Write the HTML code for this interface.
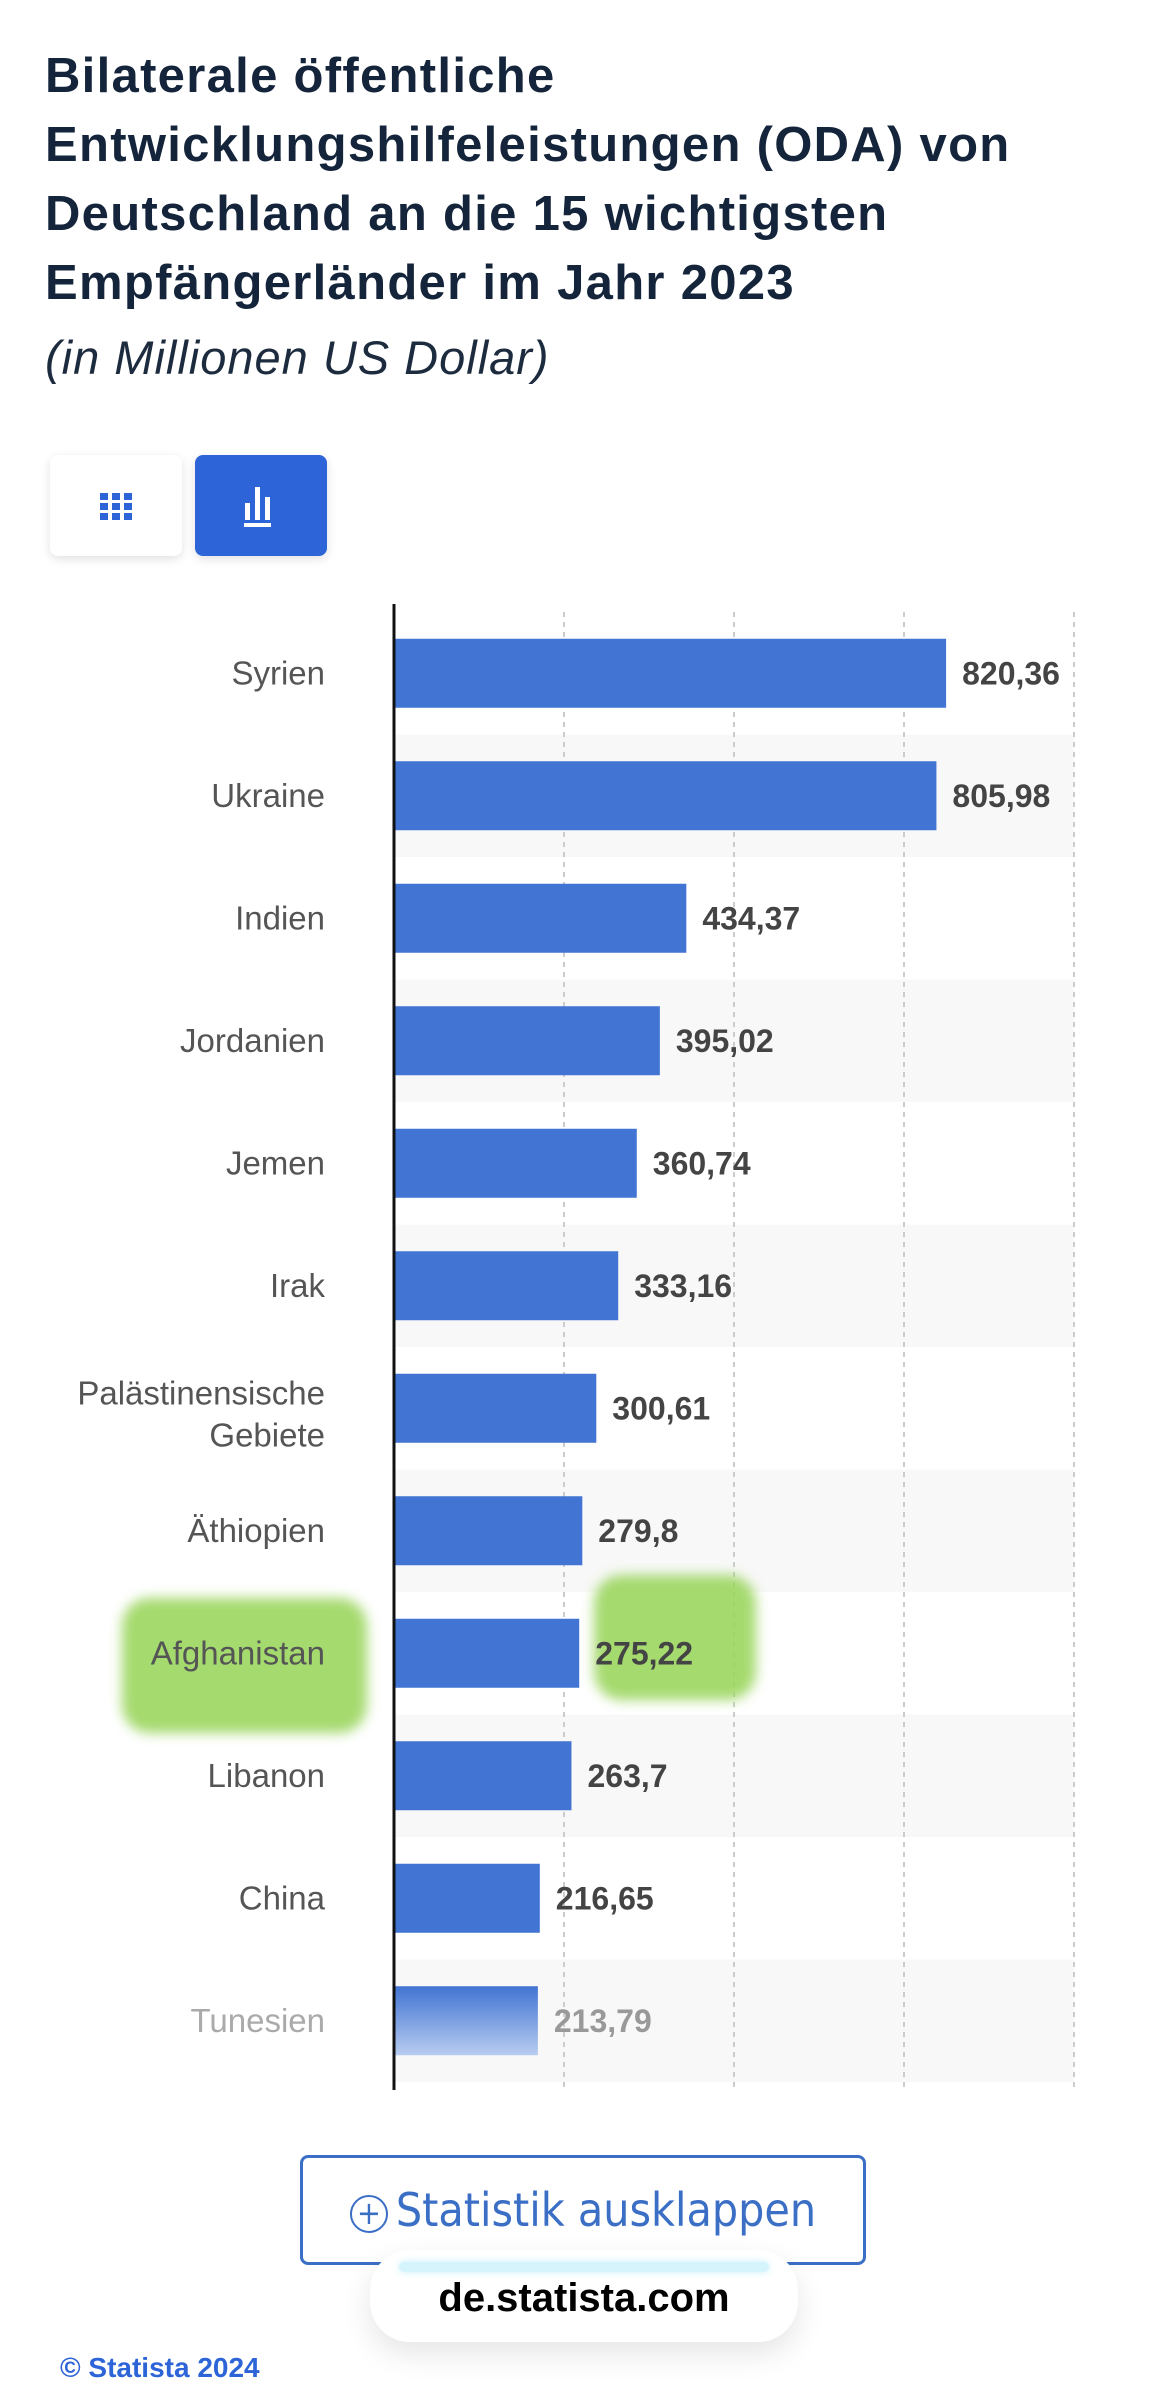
<!DOCTYPE html>
<html><head><meta charset="utf-8">
<style>
body{margin:0;width:1170px;height:2360px;background:#fff;overflow:hidden;position:relative;font-family:"Liberation Sans",sans-serif}
#title{position:absolute;left:45px;top:42px;width:1120px;font-weight:bold;font-size:49px;letter-spacing:1.3px;line-height:69px;color:#14243a;margin:0}
#sub{position:absolute;left:45px;top:330px;font-style:italic;font-size:47px;letter-spacing:1px;color:#1d2b3e}
.tb{position:absolute;top:455px;width:132px;height:101px;border-radius:8px;box-shadow:0 3px 10px rgba(0,0,0,.12)}
</style></head><body>
<h1 id="title">Bilaterale öffentliche Entwicklungshilfeleistungen (ODA) von Deutschland an die 15 wichtigsten Empfängerländer im Jahr 2023</h1>
<div id="sub">(in Millionen US Dollar)</div>
<div class="tb" style="left:50px;background:#fff">
<svg width="132" height="101"><g fill="#2d64d8"><rect x="50" y="38" width="8" height="7"/><rect x="62" y="38" width="8" height="7"/><rect x="74" y="38" width="8" height="7"/><rect x="50" y="48" width="8" height="7"/><rect x="62" y="48" width="8" height="7"/><rect x="74" y="48" width="8" height="7"/><rect x="50" y="58" width="8" height="7"/><rect x="62" y="58" width="8" height="7"/><rect x="74" y="58" width="8" height="7"/></g></svg></div>
<div class="tb" style="left:195px;background:#2d64d8">
<svg width="132" height="101"><g fill="#fff"><rect x="50" y="48" width="5" height="17"/><rect x="60" y="32" width="5" height="33"/><rect x="70" y="42" width="5" height="23"/><rect x="49" y="68" width="27" height="4"/></g></svg></div>
<svg id="chart" width="1170" height="2360" style="position:absolute;left:0;top:0"></svg>
<div style="position:absolute;left:300px;top:2155px;width:566px;height:110px;border:3px solid #3b6fc6;border-radius:8px;box-sizing:border-box;color:#3b6fc6;font-size:46px;line-height:104px;text-align:center;font-family:'DejaVu Sans Condensed','Liberation Sans',sans-serif">
<span style="display:inline-block;width:34px;height:34px;border:2.5px solid #3b6fc6;border-radius:50%;line-height:32px;font-size:32px;vertical-align:middle;margin-right:8px">+</span>Statistik ausklappen</div>
<div style="position:absolute;left:370px;top:2250px;width:428px;height:92px;background:#fff;border-radius:40px;box-shadow:0 12px 30px rgba(0,0,0,.1);text-align:center">
<div style="margin:12px auto 0;width:370px;height:10px;border-radius:6px;background:#d6f4fc;box-shadow:0 0 8px #c6effa"></div>
<div style="font-weight:bold;font-size:40px;color:#000;margin-top:4px">de.statista.com</div></div>
<div style="position:absolute;left:60px;top:2352px;font-size:28px;font-weight:bold;color:#2d64d8">© Statista 2024</div>
<script>
const categories=["Syrien","Ukraine","Indien","Jordanien","Jemen","Irak","Palästinensische Gebiete","Äthiopien","Afghanistan","Libanon","China","Tunesien"];
const values=[820.36,805.98,434.37,395.02,360.74,333.16,300.61,279.8,275.22,263.7,216.65,213.79];
const labels=["820,36","805,98","434,37","395,02","360,74","333,16","300,61","279,8","275,22","263,7","216,65","213,79"];
const gridTicks=[250,500,750,1000];
const NS="http://www.w3.org/2000/svg",svg=document.getElementById('chart');
const x0=394,k=0.673,kg=0.68,top0=612,pitch=122.5,bh=69,bottom=2090;
const X=v=>x0+v*k, XG=v=>x0+v*kg, Y=i=>top0+i*pitch;
function mk(t,a){const e=document.createElementNS(NS,t);for(const n in a)e.setAttribute(n,a[n]);svg.appendChild(e);return e;}
const defs=mk('defs',{});
defs.innerHTML='<linearGradient id="fade" x1="0" y1="0" x2="0" y2="1"><stop offset="0" stop-color="#4174d3"/><stop offset="1" stop-color="#b8ccf0"/></linearGradient><filter id="bl"><feGaussianBlur stdDeviation="6"/></filter>';
categories.forEach((c,i)=>{if(i%2==1){const r=mk('rect',{x:x0,y:Y(i),width:680,height:pitch,fill:'#f8f8f8'});

}});
gridTicks.forEach(t=>{const l=mk('line',{x1:XG(t),x2:XG(t),y1:top0,y2:bottom,stroke:'#ccc','stroke-width':2,'stroke-dasharray':'5,5'});

});
const hl1=mk('rect',{x:122,y:1598,width:245,height:135,rx:28,fill:'#9bd65e',opacity:.9,filter:'url(#bl)'});


const hl2=mk('rect',{x:594,y:1575,width:162,height:125,rx:28,fill:'#9bd65e',opacity:.9,filter:'url(#bl)'});


categories.forEach((c,i)=>{
 const cy=Y(i)+pitch/2, last=i==categories.length-1;
 const b=mk('rect',{x:x0,y:cy-bh/2,width:values[i]*k,height:bh,fill:last?'url(#fade)':'#4174d3'});
 
 
 const v=mk('text',{x:X(values[i])+16,y:cy+11,'font-size':32,'font-weight':'bold',fill:last?'#999':'#444'});
 v.textContent=labels[i];
 
 
 const t=mk('text',{x:325,y:cy+11,'text-anchor':'end','font-size':33,fill:last?'#aaa':'#555'});
 if(c.includes(' ')){const p=c.split(' ');t.setAttribute('y',cy-4);
  p.forEach((w,j)=>{const s=document.createElementNS(NS,'tspan');s.setAttribute('x',325);s.setAttribute('dy',j?42:0);s.textContent=w;t.appendChild(s);});}
 else t.textContent=c;
 
 
});
const ax=mk('line',{x1:x0,x2:x0,y1:top0-8,y2:bottom,stroke:'#111','stroke-width':3});


</script>
</body></html>
